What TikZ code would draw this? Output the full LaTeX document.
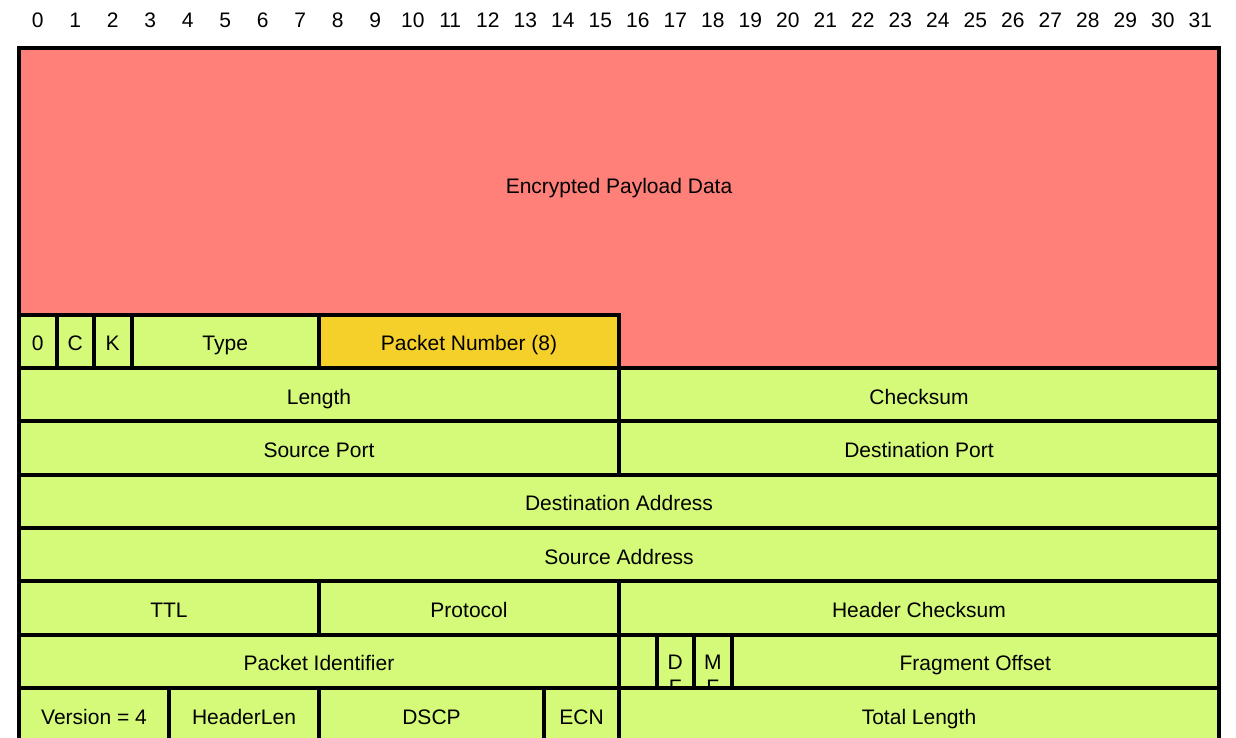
\documentclass[tikz,border=0pt]{standalone}
\usepackage{fontspec}
\setmainfont{Liberation Sans}
\definecolor{payloadred}{RGB}{255,127,121}
\definecolor{fieldgreen}{RGB}{213,250,122}
\definecolor{pnorange}{RGB}{246,208,42}
\tikzset{packet/.style={x=37.5pt,y=-53.333pt,shift={(19pt,-48pt)},
                        font=\fontsize{21pt}{25pt}\selectfont},
         field/.style={draw,line width=4pt,fill=fieldgreen,anchor=north west,
                       minimum width=#1*37.5pt,minimum height=53.333pt,
                       text height=19pt,text depth=0pt,
                       inner sep=0pt,outer sep=0pt},
         bitnum/.style={inner sep=0pt}}

\begin{document}
\begin{tikzpicture}[packet]
\useasboundingbox (-19pt,48pt) rectangle (1217pt,-690pt);

% bit ruler
\foreach \b in {0,...,31}
  \node[bitnum] (bit\b) at (\b+0.5,-0.525) {\b};

% encrypted part
\draw[line width=4pt,fill=payloadred] (0,0) -- (32,0) -- (32,6) -- (16,6)
      -- (16,5) -- (0,5) -- cycle;
\node[text height=19pt,text depth=0pt] (payload) at (16,2.55) {Encrypted Payload Data};

% short header
\node[field=1] (zero) at (0,5) {0};
\node[field=1] (cbit) at (1,5) {C};
\node[field=1] (kbit) at (2,5) {K};
\node[field=5] (type) at (3,5) {Type};
\node[field=8,fill=pnorange] (pktnum) at (8,5) {Packet Number (8)};

% udp
\node[field=16] (length) at (0,6) {Length};
\node[field=16] (checksum) at (16,6) {Checksum};
\node[field=16] (srcport) at (0,7) {Source Port};
\node[field=16] (dstport) at (16,7) {Destination Port};

% ip
\node[field=32] (dstaddr) at (0,8) {Destination Address};
\node[field=32] (srcaddr) at (0,9) {Source Address};
\node[field=8] (ttl) at (0,10) {TTL};
\node[field=8] (proto) at (8,10) {Protocol};
\node[field=16] (hdrcsum) at (16,10) {Header Checksum};
\node[field=16] (pktid) at (0,11) {Packet Identifier};
\node[field=1] (rsvd) at (16,11) {};
\node[field=1] (df) at (17,11) {};
\node[align=center,anchor=north,inner sep=0pt] (dftext)
      at ([yshift=6.5pt]df.center) {D\\F};
\node[field=1] (mf) at (18,11) {};
\node[align=center,anchor=north,inner sep=0pt] (mftext)
      at ([yshift=6.5pt]mf.center) {M\\F};
\node[field=13] (fragoff) at (19,11) {Fragment Offset};
\node[field=4] (version) at (0,12) {Version = 4};
\node[field=4] (hdrlen) at (4,12) {HeaderLen};
\node[field=6] (dscp) at (8,12) {DSCP};
\node[field=2] (ecn) at (14,12) {ECN};
\node[field=16] (totlen) at (16,12) {Total Length};
\end{tikzpicture}
\end{document}
